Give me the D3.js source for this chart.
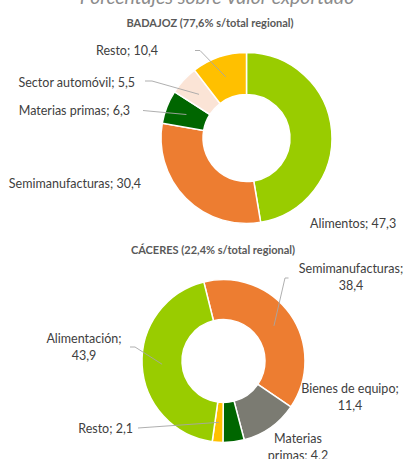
<!DOCTYPE html>
<html>
<head>
<meta charset="utf-8">
<script src="https://cdn.jsdelivr.net/npm/d3@7"></script>
<style>
  html, body { margin: 0; padding: 0; background: #fff; }
  svg { display: block; }
  text { font-family: Lato, "Open Sans", sans-serif; }
</style>
</head>
<body>
<svg id="chart" width="403" height="459"></svg>
<script>
// Export share by product group, per province (%)
const badajozCategories = ["Alimentos", "Semimanufacturas", "Materias primas", "Sector automóvil", "Resto"];
const badajozValues = [47.3, 30.4, 6.3, 5.5, 10.4];

const caceresCategories = ["Semimanufacturas", "Bienes de equipo", "Materias primas", "Resto", "Alimentación"];
const caceresValues = [38.4, 11.4, 4.2, 2.1, 43.9];

const chartTitle = "Porcentajes sobre Valor exportado";
const badajozTitle = "BADAJOZ (77,6% s/total regional)";
const caceresTitle = "CÁCERES (22,4% s/total regional)";

const categoryColors = {
  "Alimentos": "#99cc00",
  "Alimentación": "#99cc00",
  "Semimanufacturas": "#ed7d31",
  "Materias primas": "#006600",
  "Sector automóvil": "#fbe4d6",
  "Resto": "#ffc000",
  "Bienes de equipo": "#7b7b72"
};

const fmt = v => String(v).replace(".", ",");
const svg = d3.select("#chart");

// Main title (runs off the top edge)
svg.append("text")
  .attr("x", 217).attr("y", 4)
  .attr("text-anchor", "middle")
  .attr("font-size", 19.5)
  .attr("font-style", "italic")
  .attr("fill", "#8c8c8c")
  .text(chartTitle);

function donut(cfg) {
  const pie = d3.pie().sort(null).value(d => d.value)
    .startAngle(cfg.startAngle).endAngle(cfg.startAngle + 2 * Math.PI);
  const arc = d3.arc().innerRadius(cfg.inner).outerRadius(cfg.outer);
  const data = cfg.categories.map((c, i) => ({ name: c, value: cfg.values[i] }));
  const arcs = pie(data);

  const g = svg.append("g").attr("transform", `translate(${cfg.cx},${cfg.cy})`);

  svg.append("text")
    .attr("x", cfg.titleX).attr("y", cfg.titleY)
    .attr("text-anchor", "middle")
    .attr("font-size", 11)
    .attr("font-weight", "bold")
    .attr("fill", "#595959")
    .text(cfg.title);

  g.selectAll("path.slice")
    .data(arcs)
    .join("path")
    .attr("class", "slice")
    .attr("d", arc)
    .attr("fill", d => categoryColors[d.data.name])
    .attr("stroke", "#fff")
    .attr("stroke-width", 1.5);

  // Leader lines from label elbows to the slice centroids
  arcs.forEach((a, i) => {
    const lab = cfg.labels[i];
    if (!lab.line) return;
    const c = arc.centroid(a);
    const pts = lab.line.map(p => [p[0] - cfg.cx, p[1] - cfg.cy]).concat([c]);
    g.append("path")
      .attr("d", d3.line()(pts))
      .attr("fill", "none")
      .attr("stroke", "#a6a6a6")
      .attr("stroke-width", 0.9);
  });

  // Data labels "Category; value"
  arcs.forEach((a, i) => {
    const lab = cfg.labels[i];
    const full = `${a.data.name}; ${fmt(a.data.value)}`;
    let lines;
    if (lab.split === "value") lines = [`${a.data.name};`, fmt(a.data.value)];
    else if (lab.split === "word") {
      const words = a.data.name.split(" ");
      lines = [words[0], `${words.slice(1).join(" ")}; ${fmt(a.data.value)}`];
    } else lines = [full];
    const t = svg.append("text")
      .attr("x", lab.x).attr("y", lab.y)
      .attr("text-anchor", lab.anchor)
      .attr("font-size", 12.5)
      .attr("fill", "#404040");
    lines.forEach((ln, k) => {
      t.append("tspan").attr("x", lab.x).attr("dy", k === 0 ? 0 : 16.5).text(ln);
    });
  });
}

donut({
  categories: badajozCategories,
  values: badajozValues,
  title: badajozTitle,
  titleX: 210, titleY: 27,
  cx: 246.5, cy: 138, outer: 85.5, inner: 43.5,
  startAngle: 0,
  labels: [
    { x: 310, y: 228, anchor: "start" },
    { x: 141, y: 188, anchor: "end" },
    { x: 130, y: 115, anchor: "end", line: [[143, 110.5]] },
    { x: 135, y: 86.5, anchor: "end", line: [[145, 81], [152, 81]] },
    { x: 158, y: 55, anchor: "end", line: [[195, 50.5], [200, 50.5]] }
  ]
});

donut({
  categories: caceresCategories,
  values: caceresValues,
  title: caceresTitle,
  titleX: 213, titleY: 254,
  cx: 223.5, cy: 361, outer: 81.5, inner: 41.5,
  startAngle: -14 * Math.PI / 180,
  labels: [
    { x: 351, y: 273, anchor: "middle", split: "value", line: [[288.5, 278], [285, 278]] },
    { x: 350, y: 393, anchor: "middle", split: "value" },
    { x: 298, y: 443, anchor: "middle", split: "word" },
    { x: 133, y: 433, anchor: "end", line: [[138, 428]] },
    { x: 84, y: 343, anchor: "middle", split: "value", line: [[130, 347], [135, 347]] }
  ]
});
</script>
</body>
</html>
